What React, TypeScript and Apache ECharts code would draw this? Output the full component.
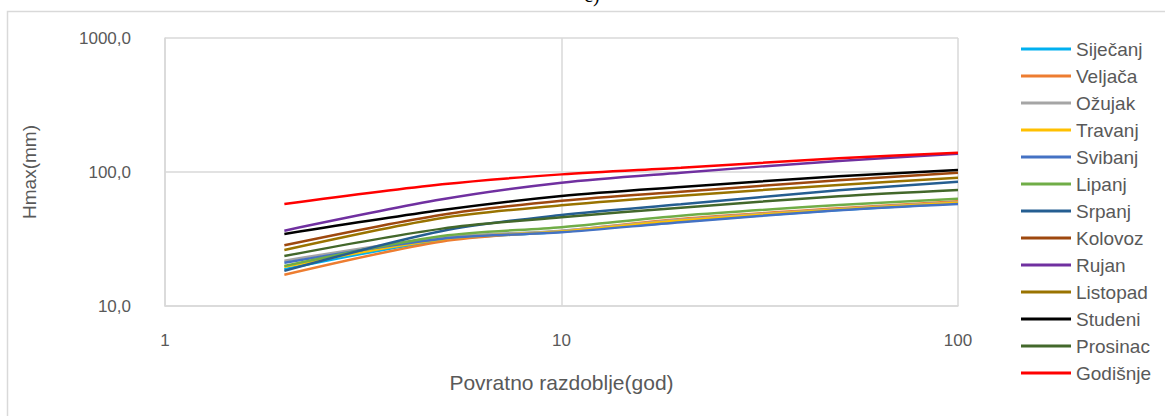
import React, { useEffect, useRef } from "react";
import * as echarts from "echarts";

const returnPeriods = [2, 5, 10, 20, 50, 100];

const seriesNames = [
  "Siječanj", "Veljača", "Ožujak", "Travanj", "Svibanj", "Lipanj", "Srpanj",
  "Kolovoz", "Rujan", "Listopad", "Studeni", "Prosinac", "Godišnje",
];

const sijecanj = [18.8, 31.0, 35.8, 42.8, 52.0, 58.5];
const veljaca = [17.1, 30.3, 36.3, 44.6, 53.6, 60.4];
const ozujak = [21.8, 32.5, 36.5, 44.0, 53.0, 59.5];
const travanj = [19.6, 31.5, 36.0, 43.5, 52.5, 59.0];
const svibanj = [21.0, 31.8, 35.5, 42.2, 51.8, 57.7];
const lipanj = [19.9, 33.3, 38.7, 47.2, 56.7, 63.2];
const srpanj = [18.3, 36.3, 47.8, 57.4, 73.0, 84.7];
const kolovoz = [28.4, 48.0, 61.0, 71.3, 86.7, 98.8];
const rujan = [36.5, 62.5, 83.2, 98.8, 121.0, 137.0];
const listopad = [26.2, 45.4, 56.4, 66.6, 80.0, 90.6];
const studeni = [34.5, 52.0, 66.2, 77.3, 92.9, 103.5];
const prosinac = [23.6, 37.8, 45.9, 54.2, 65.9, 73.4];
const godisnje = [57.7, 80.9, 96.0, 107.7, 126.5, 139.0];

const seriesValues = [
  sijecanj, veljaca, ozujak, travanj, svibanj, lipanj, srpanj,
  kolovoz, rujan, listopad, studeni, prosinac, godisnje,
];

const colors = [
  "#00B0F0", "#ED7D31", "#A5A5A5", "#FFC000", "#4472C4", "#70AD47", "#255E91",
  "#9E480E", "#7030A0", "#997300", "#000000", "#43682B", "#FF0000",
];

const xTicks = [1, 10, 100];
const yTicks = [10, 100, 1000];

const FONT = "'Liberation Sans', Arial, sans-serif";

export default function App() {
  const ref = useRef<HTMLDivElement>(null);

  useEffect(() => {
    if (!ref.current) return;
    const chart = echarts.init(ref.current, null, { renderer: "svg" });
    const option: any = {
      animation: false,
      backgroundColor: "#ffffff",
      textStyle: { fontFamily: FONT },
      grid: { left: 165, right: 207, top: 38, bottom: 110, containLabel: false },
      xAxis: {
        type: "log",
        logBase: 10,
        min: xTicks[0],
        max: xTicks[xTicks.length - 1],
        name: "Povratno razdoblje(god)",
        nameLocation: "middle",
        nameGap: 66,
        nameTextStyle: { color: "#595959", fontSize: 21, fontFamily: FONT },
        axisLine: { show: true, lineStyle: { color: "#D9D9D9", width: 1.5 } },
        axisTick: { show: false },
        axisLabel: { color: "#595959", fontSize: 17, margin: 26, fontFamily: FONT },
        splitLine: { show: true, lineStyle: { color: "#D9D9D9", width: 1.5 } },
      },
      yAxis: {
        type: "log",
        logBase: 10,
        min: yTicks[0],
        max: yTicks[yTicks.length - 1],
        name: "Hmax(mm)",
        nameLocation: "middle",
        nameGap: 126,
        nameRotate: 90,
        nameTextStyle: { color: "#595959", fontSize: 19, fontFamily: FONT },
        axisLine: { show: true, lineStyle: { color: "#D9D9D9", width: 1.5 } },
        axisTick: { show: false },
        axisLabel: {
          color: "#595959",
          fontSize: 17,
          margin: 34,
          fontFamily: FONT,
          formatter: (v: number) => v.toFixed(1).replace(".", ","),
        },
        splitLine: { show: true, lineStyle: { color: "#D9D9D9", width: 1.5 } },
      },
      legend: {
        orient: "vertical",
        left: 1016,
        top: 34,
        icon: "rect",
        itemWidth: 50,
        itemHeight: 3,
        itemGap: 7,
        data: seriesNames,
        textStyle: { color: "#595959", fontSize: 19, lineHeight: 20, fontFamily: FONT },
      },
      graphic: [
        {
          type: "rect",
          shape: { x: 7.5, y: 11.5, width: 1200, height: 500 },
          style: { fill: "none", stroke: "#D9D9D9", lineWidth: 1.5 },
          silent: true,
        },
        {
          type: "text",
          x: 584,
          y: -15,
          style: { text: "c)", fontSize: 20, fill: "#000000", fontFamily: "'Liberation Serif', serif" },
          silent: true,
        },
      ],
      series: seriesNames.map((name, i) => ({
        name,
        type: "line",
        data: returnPeriods.map((x, j) => [x, seriesValues[i][j]]),
        smooth: 0.3,
        showSymbol: false,
        symbol: "none",
        lineStyle: { color: colors[i], width: 2.5 },
        itemStyle: { color: colors[i] },
      })),
    };
    chart.setOption(option);
    return () => chart.dispose();
  }, []);

  return (
    <div
      ref={ref}
      style={{ position: "fixed", left: 0, top: 0, width: 1165, height: 416, background: "#fff" }}
    />
  );
}
